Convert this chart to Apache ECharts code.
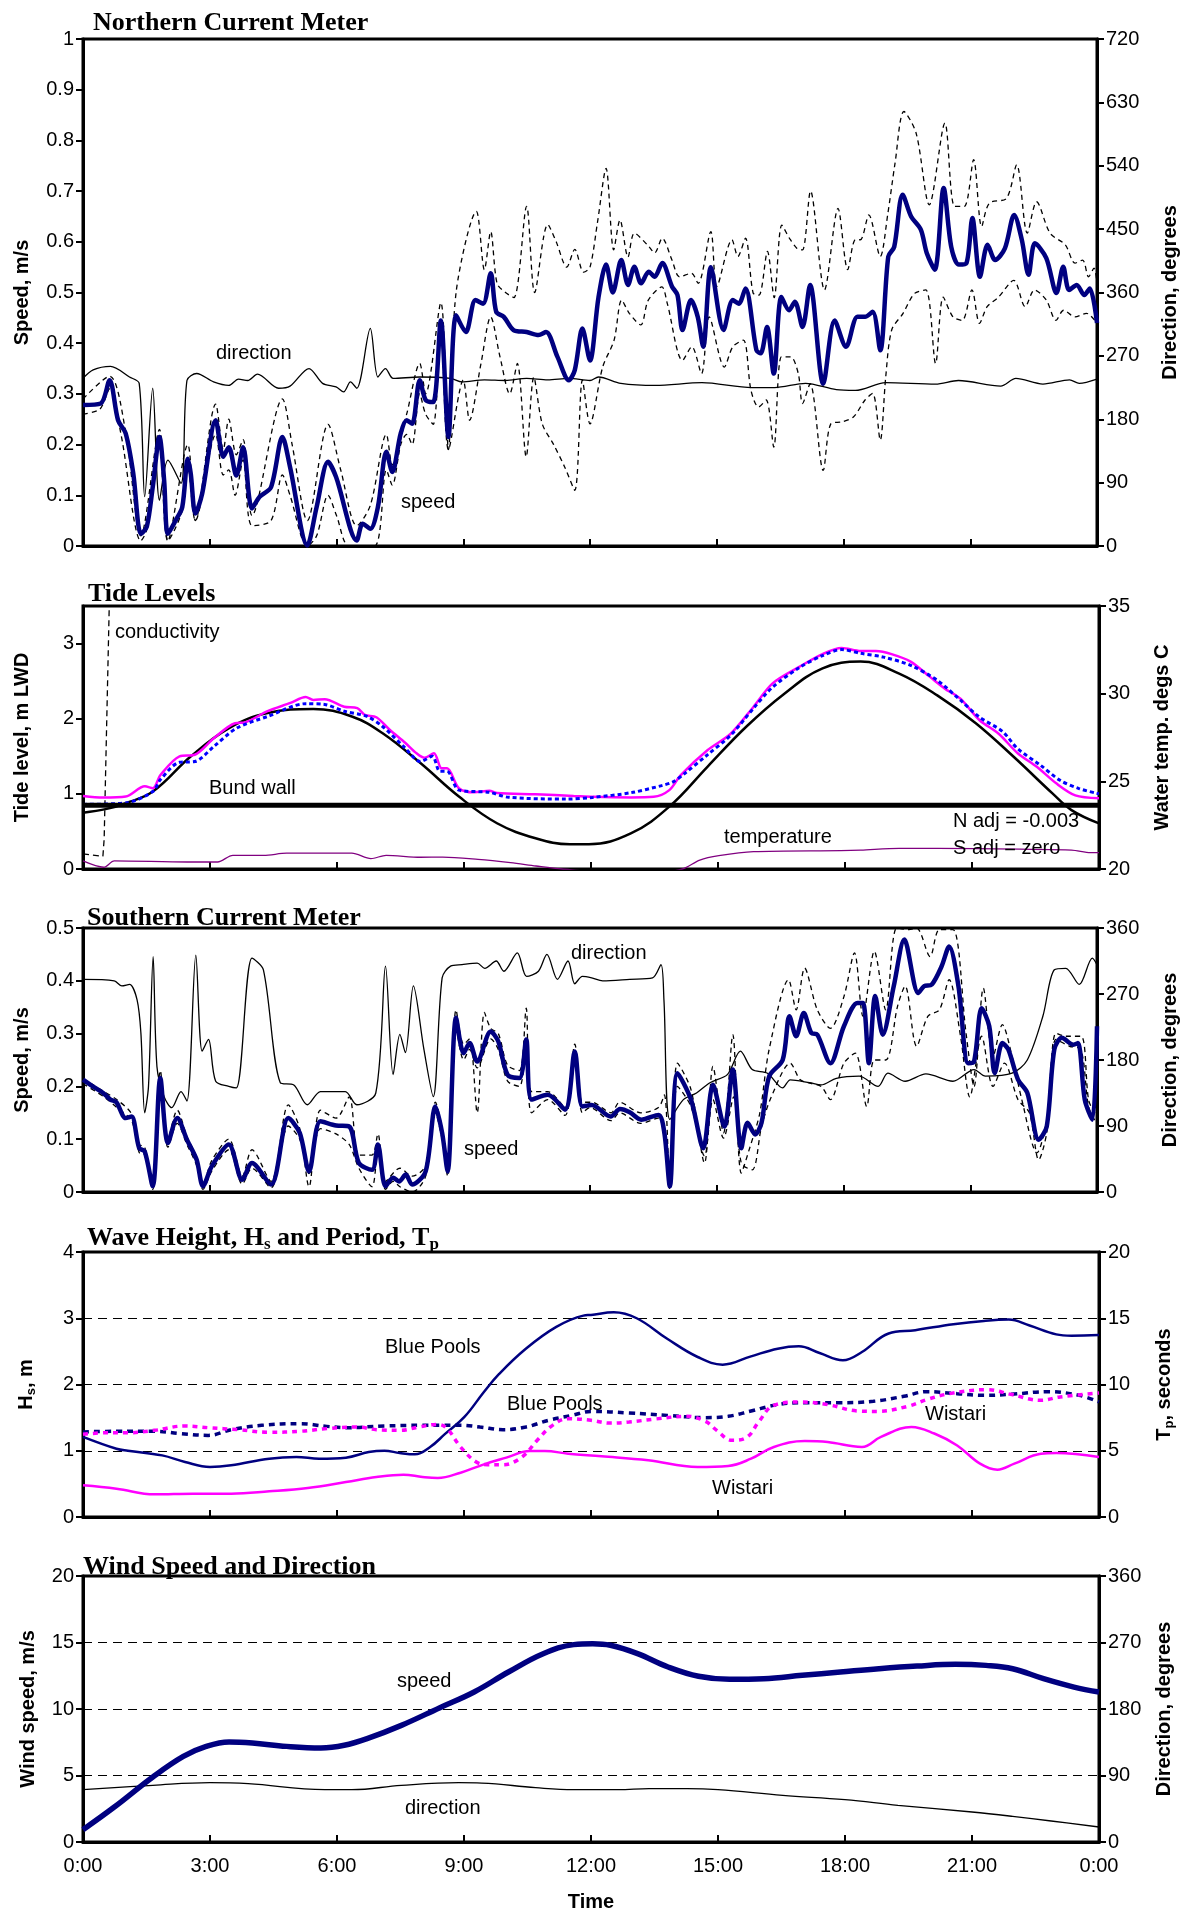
<!DOCTYPE html>
<html>
<head>
<meta charset="utf-8">
<script src="https://cdn.jsdelivr.net/npm/echarts@6/dist/echarts.min.js"></script>
<style>
html, body { margin: 0; padding: 0; background: #fff; }
#chart { width: 1188px; height: 1915px; }
</style>
</head>
<body>
<div id="chart"></div>
<script>
// ---- Northern current meter (speed m/s, direction deg) ----
var nSpeedT = [0,0.42,0.63,0.83,1.01,1.19,1.37,1.51,1.65,1.81,1.92,2.01,2.19,2.35,2.48,2.55,2.66,2.82,3.14,3.32,3.45,3.63,3.79,4.0,4.18,4.45,4.72,4.9,5.31,5.53,5.8,5.99,6.48,6.62,6.8,6.98,7.18,7.32,7.52,7.66,7.79,7.97,8.11,8.29,8.47,8.65,8.83,9.06,9.29,9.47,9.65,9.78,9.96,10.19,10.5,10.78,10.96,11.23,11.5,11.64,11.82,12.0,12.2,12.38,12.54,12.74,12.9,13.05,13.21,13.39,13.53,13.71,13.94,14.07,14.19,14.39,14.55,14.68,14.86,15.16,15.38,15.52,15.68,15.94,16.04,16.19,16.35,16.53,16.71,16.85,17.03,17.21,17.52,17.79,18.06,18.33,18.51,18.69,18.87,19.06,19.2,19.4,19.6,19.83,19.97,20.16,20.37,20.55,20.73,20.91,21.05,21.23,21.41,21.59,21.82,22.04,22.22,22.38,22.53,22.8,23.04,23.2,23.34,23.52,23.7,23.83,24];
var nSpeedV = [0.278,0.281,0.327,0.248,0.222,0.143,0.024,0.038,0.116,0.215,0.13,0.024,0.05,0.077,0.172,0.143,0.064,0.103,0.248,0.176,0.195,0.139,0.195,0.074,0.097,0.116,0.215,0.156,0.001,0.077,0.166,0.136,0.011,0.044,0.034,0.077,0.186,0.146,0.222,0.248,0.241,0.327,0.288,0.284,0.445,0.215,0.455,0.422,0.485,0.478,0.538,0.462,0.452,0.426,0.422,0.416,0.422,0.373,0.327,0.347,0.429,0.366,0.49,0.555,0.5,0.564,0.515,0.551,0.518,0.541,0.531,0.558,0.512,0.495,0.426,0.485,0.452,0.393,0.55,0.426,0.485,0.478,0.508,0.386,0.38,0.432,0.34,0.491,0.465,0.482,0.432,0.515,0.32,0.445,0.393,0.452,0.452,0.462,0.386,0.571,0.59,0.693,0.65,0.624,0.578,0.545,0.706,0.59,0.555,0.558,0.647,0.531,0.594,0.564,0.587,0.653,0.604,0.535,0.597,0.568,0.499,0.551,0.505,0.515,0.495,0.508,0.44];
var nUpperT = [0,0.63,1.0,1.37,1.81,2.01,2.48,2.66,3.14,3.32,3.45,3.63,3.79,4.0,4.72,4.95,5.31,5.8,6.1,6.48,6.8,7.18,7.32,7.66,7.97,8.11,8.47,8.65,8.83,9.31,9.5,9.65,9.8,10.0,10.2,10.5,10.69,11.0,11.2,11.45,11.64,11.85,12.0,12.18,12.38,12.56,12.71,12.9,13.05,13.39,13.53,13.71,13.94,14.12,14.4,14.56,14.86,15.0,15.36,15.5,15.68,15.86,16.0,16.2,16.36,16.54,16.72,16.9,17.03,17.22,17.55,17.87,18.1,18.28,18.4,18.6,18.87,19.05,19.22,19.43,19.72,20.03,20.4,20.63,20.86,21.08,21.27,21.45,21.86,22.1,22.35,22.57,22.89,23.25,23.48,23.66,23.8,23.93,24];
var nUpperV = [0.29,0.335,0.23,0.02,0.23,0.01,0.2,0.05,0.28,0.19,0.25,0.18,0.21,0.06,0.29,0.2,0.05,0.24,0.15,0.04,0.08,0.22,0.16,0.26,0.36,0.3,0.48,0.19,0.5,0.66,0.545,0.62,0.518,0.5,0.49,0.67,0.5,0.634,0.6,0.55,0.585,0.54,0.55,0.64,0.745,0.584,0.643,0.57,0.617,0.591,0.578,0.607,0.564,0.531,0.538,0.518,0.62,0.512,0.604,0.571,0.607,0.499,0.495,0.581,0.49,0.633,0.607,0.587,0.584,0.7,0.505,0.666,0.545,0.604,0.604,0.653,0.571,0.656,0.755,0.857,0.814,0.673,0.834,0.67,0.67,0.762,0.63,0.676,0.686,0.752,0.617,0.679,0.617,0.594,0.558,0.564,0.531,0.548,0.518];
var nLowerT = [0,0.4,0.63,0.9,1.37,1.5,1.81,2.01,2.35,2.48,2.66,3.14,3.32,3.45,3.6,3.79,4.0,4.45,4.72,4.9,5.31,5.53,5.8,6.0,6.3,6.9,7.18,7.32,7.52,7.66,7.79,7.97,8.11,8.29,8.47,8.65,9.0,9.15,9.42,9.65,9.87,10.1,10.28,10.49,10.67,10.87,11.14,11.4,11.64,11.82,12.0,12.3,12.57,12.75,12.93,13.2,13.38,13.7,13.83,14.19,14.41,14.64,14.82,15.18,15.38,15.63,15.81,15.99,16.17,16.35,16.53,16.75,16.93,17.03,17.21,17.52,17.7,17.97,18.24,18.51,18.69,18.87,19.0,19.14,19.41,19.68,19.95,20.18,20.36,20.59,20.81,21.04,21.22,21.4,21.67,22.03,22.3,22.52,22.8,23.03,23.21,23.48,23.75,24];
var nLowerV = [0.26,0.27,0.31,0.22,0.01,0.03,0.2,0.01,0.07,0.16,0.05,0.22,0.14,0.15,0.1,0.17,0.04,0.05,0.14,0.1,0,0.02,0.1,0.06,0,0,0.15,0.12,0.2,0.22,0.2,0.3,0.26,0.24,0.43,0.19,0.327,0.248,0.36,0.452,0.373,0.3,0.36,0.176,0.333,0.241,0.2,0.156,0.11,0.327,0.241,0.353,0.406,0.485,0.459,0.436,0.485,0.511,0.478,0.366,0.393,0.34,0.452,0.353,0.393,0.406,0.307,0.274,0.288,0.195,0.373,0.373,0.34,0.281,0.32,0.149,0.241,0.245,0.255,0.288,0.301,0.209,0.334,0.426,0.459,0.498,0.505,0.36,0.491,0.452,0.445,0.505,0.439,0.472,0.491,0.524,0.472,0.505,0.485,0.445,0.465,0.452,0.459,0.439];
var nDirT = [0,0.24,0.65,1.1,1.33,1.46,1.65,1.81,2.01,2.32,2.46,2.69,3.09,3.45,3.68,3.9,4.13,4.63,4.9,5.35,5.67,5.99,6.17,6.33,6.48,6.8,6.98,7.16,7.34,7.97,8.7,8.97,9.5,10,10.5,11,11.5,12,12.2,12.73,13.55,14.65,15.83,16.37,17.1,17.83,18.28,19.0,20.18,20.72,21.72,22.08,22.72,23.35,23.58,24];
var nDirV = [238,250,255,240,231,70,224,65,122,89,235,245,233,228,237,235,244,224,227,252,231,226,219,233,224,309,240,252,238,240,238,233,236,235,238,236,238,235,240,231,228,232,225,225,231,222,221,232,230,235,227,238,230,236,231,237];

// ---- Tide levels (m LWD), temperature (deg C) ----
var tidePredT = [0,0.56,1.01,1.65,2.55,3.45,4.36,5.44,6.35,7.07,7.97,8.88,9.78,10.69,11.5,11.95,12.94,13.85,14.75,15.66,16.56,17.47,18.37,19.28,20.18,21.09,21.99,22.9,23.35,24];
var tidePredV = [0.75,0.8,0.875,1.03,1.5,1.875,2.076,2.13,2.03,1.81,1.41,0.964,0.609,0.409,0.329,0.33,0.474,0.83,1.36,1.89,2.33,2.67,2.76,2.6,2.31,1.94,1.49,1.006,0.784,0.607];
var tideNT = [0,0.47,1.01,1.46,1.65,1.83,2.28,2.64,3.09,3.59,3.82,4.36,4.9,5.26,5.44,5.71,6.17,6.48,6.66,6.93,7.25,7.61,7.88,8.07,8.29,8.47,8.6,8.88,9.24,9.6,9.78,10.69,11.59,12.04,12.94,13.48,13.85,14.12,14.75,15.3,15.84,16.29,16.92,17.47,17.92,18.37,18.73,19.1,19.55,20.0,20.36,20.72,21.18,21.63,22.08,22.53,22.99,23.44,24];
var tideNV = [0.973,0.95,0.964,1.1,1.075,1.25,1.5,1.52,1.74,1.94,1.95,2.1,2.21,2.29,2.25,2.26,2.16,2.14,2.05,2.02,1.85,1.68,1.54,1.48,1.54,1.34,1.34,1.075,1.02,1.04,1.01,0.995,0.973,0.961,0.953,0.96,1.05,1.25,1.58,1.8,2.16,2.47,2.69,2.86,2.94,2.9,2.9,2.86,2.76,2.56,2.4,2.27,1.98,1.8,1.54,1.36,1.14,0.98,0.94];
var tideST = [0,1.01,1.65,1.83,2.28,2.64,3.09,3.63,4.36,5.26,5.71,6.17,6.71,7.07,7.61,7.97,8.25,8.43,8.6,8.88,9.6,10.05,11.41,12.04,12.94,13.67,13.94,14.21,14.75,15.3,15.84,16.29,16.92,17.47,17.92,18.37,18.91,19.55,20.18,20.72,21.18,21.72,22.08,22.62,23.08,23.53,24];
var tideSV = [0.86,0.88,1.03,1.19,1.42,1.43,1.63,1.875,2.03,2.2,2.19,2.1,2.03,1.9,1.61,1.43,1.5,1.3,1.3,1.05,1.02,0.955,0.93,0.953,1.015,1.11,1.16,1.27,1.52,1.78,2.14,2.42,2.68,2.84,2.92,2.87,2.82,2.71,2.51,2.25,2.02,1.83,1.6,1.38,1.18,1.07,1.0];
var bundT = [0,24];
var bundV = [0.85,0.85];
var condT = [0,0.47,0.5,0.62];
var condV = [0.2,0.17,0.4,3.5];
var tempT = [0,0.49,0.74,2.46,3.18,3.54,4.27,4.81,6.35,6.8,7.16,7.97,8.5,9.33,10.1,10.7,11.3,12.5,13.5,14.16,14.57,15.02,15.84,17.9,18.37,19.28,21.09,23.35,23.8,24];
var tempV = [20.46,20.1,20.46,20.4,20.4,20.78,20.78,20.9,20.9,20.59,20.78,20.67,20.68,20.55,20.36,20.17,20.0,19.8,19.8,20.0,20.51,20.76,20.99,21.05,21.08,21.18,21.16,21.08,20.93,20.93];

// ---- Southern current meter ----
var sSpeedT = [0,0.29,0.47,0.65,0.79,1.01,1.15,1.33,1.46,1.65,1.83,2.01,2.23,2.46,2.69,2.84,3.05,3.45,3.77,4.0,4.45,4.86,5.13,5.35,5.62,5.99,6.3,6.53,6.84,6.98,7.16,7.34,7.48,7.64,7.79,8.11,8.34,8.5,8.63,8.83,9.01,9.15,9.33,9.65,9.83,10.05,10.33,10.49,10.62,11.0,11.41,11.64,11.82,12.04,12.49,12.71,12.94,13.21,13.62,13.76,13.89,14.07,14.39,14.68,14.91,15.18,15.38,15.58,15.73,15.91,16.06,16.24,16.56,16.72,16.88,17.06,17.24,17.38,17.69,18.01,18.33,18.46,18.6,18.75,18.93,19.19,19.44,19.77,19.91,20.09,20.32,20.5,20.72,20.95,21.09,21.27,21.45,21.58,21.76,21.9,22.13,22.35,22.62,22.81,22.99,23.17,23.44,23.55,23.71,23.89,24];
var sSpeedV = [0.213,0.197,0.188,0.175,0.17,0.14,0.143,0.083,0.077,0.011,0.216,0.093,0.14,0.099,0.061,0.011,0.049,0.09,0.023,0.055,0.014,0.14,0.112,0.039,0.134,0.126,0.124,0.055,0.042,0.09,0.011,0.027,0.02,0.033,0.014,0.039,0.162,0.112,0.039,0.33,0.263,0.282,0.247,0.304,0.285,0.222,0.216,0.289,0.175,0.184,0.156,0.266,0.162,0.165,0.143,0.157,0.151,0.137,0.146,0.112,0.011,0.225,0.175,0.083,0.203,0.124,0.232,0.083,0.131,0.109,0.131,0.219,0.25,0.333,0.295,0.339,0.301,0.298,0.244,0.314,0.358,0.358,0.244,0.371,0.298,0.39,0.478,0.377,0.39,0.393,0.427,0.465,0.39,0.244,0.247,0.348,0.314,0.225,0.282,0.27,0.213,0.188,0.099,0.124,0.27,0.292,0.279,0.282,0.175,0.137,0.314];
var sUpperT = [0,0.5,0.8,1.15,1.33,1.46,1.65,1.83,2.01,2.23,2.46,2.69,2.84,3.05,3.45,3.77,4.0,4.45,4.86,5.13,5.35,5.62,5.99,6.3,6.53,6.84,6.98,7.16,7.5,7.79,8.11,8.34,8.5,8.63,8.83,9.01,9.15,9.33,9.5,9.65,9.83,10.05,10.33,10.49,10.62,11.0,11.41,11.64,11.82,12.04,12.5,12.7,13.2,13.62,13.76,13.89,14.07,14.39,14.71,14.91,15.16,15.38,15.58,15.79,16.02,16.24,16.7,16.88,17.08,17.38,17.69,18.01,18.26,18.46,18.73,19.0,19.26,19.55,19.73,20.05,20.27,20.59,20.9,21.09,21.31,21.54,21.76,21.99,22.22,22.58,22.81,23.03,23.26,23.62,23.8,23.94,24];
var sUpperV = [0.215,0.19,0.175,0.148,0.09,0.085,0.015,0.23,0.1,0.155,0.105,0.065,0.015,0.06,0.1,0.03,0.08,0.02,0.165,0.12,0.01,0.155,0.14,0.18,0.07,0.07,0.11,0.02,0.045,0.03,0.05,0.17,0.12,0.05,0.345,0.28,0.29,0.15,0.34,0.31,0.3,0.24,0.23,0.348,0.19,0.19,0.16,0.28,0.17,0.17,0.15,0.17,0.15,0.16,0.184,0.01,0.244,0.194,0.055,0.238,0.112,0.298,0.036,0.086,0.15,0.27,0.402,0.345,0.424,0.345,0.31,0.37,0.453,0.333,0.456,0.345,0.5,0.497,0.5,0.446,0.497,0.497,0.301,0.2,0.386,0.257,0.317,0.257,0.175,0.074,0.137,0.301,0.295,0.295,0.175,0.15,0.314];
var sLowerT = [0,0.5,0.8,1.15,1.33,1.46,1.65,1.83,2.01,2.23,2.46,2.69,2.84,3.05,3.45,3.77,4.0,4.45,4.86,5.13,5.35,5.62,5.99,6.3,6.53,6.84,6.98,7.16,7.34,7.5,7.79,8.11,8.34,8.5,8.63,8.83,9.01,9.15,9.33,9.65,9.83,10.05,10.33,10.49,10.62,11.0,11.41,11.64,11.82,12.0,12.5,12.7,13.2,13.62,13.76,13.89,14.07,14.39,14.71,14.91,15.16,15.4,15.58,15.84,16.06,16.29,16.74,16.97,17.2,17.47,17.69,18.01,18.28,18.55,18.73,19.0,19.28,19.46,19.73,20.0,20.27,20.5,20.77,20.99,21.27,21.54,21.81,22.13,22.4,22.62,22.81,23.03,23.35,23.62,23.8,23.98];
var sLowerV = [0.205,0.18,0.16,0.135,0.075,0.07,0.005,0.2,0.085,0.13,0.09,0.05,0.005,0.04,0.08,0.015,0.045,0.008,0.125,0.1,0.035,0.12,0.11,0.09,0.045,0.01,0.08,0.005,0.02,0.01,0,0.03,0.15,0.1,0.03,0.31,0.25,0.27,0.235,0.29,0.27,0.21,0.2,0.28,0.15,0.175,0.145,0.26,0.15,0.16,0.135,0.15,0.13,0.14,0.1,0.005,0.2,0.162,0.068,0.175,0.102,0.18,0.055,0.042,0.124,0.18,0.244,0.213,0.206,0.2,0.175,0.244,0.263,0.162,0.25,0.25,0.352,0.39,0.276,0.333,0.345,0.402,0.295,0.18,0.295,0.2,0.244,0.175,0.15,0.061,0.112,0.289,0.276,0.27,0.162,0.131];
var sDirT = [0,0.74,0.92,1.1,1.28,1.37,1.46,1.55,1.66,1.75,1.92,2.1,2.32,2.46,2.67,2.82,2.97,3.14,3.45,3.63,4.0,4.27,4.67,4.99,5.31,5.62,5.99,6.21,6.48,6.93,7.16,7.34,7.5,7.63,7.82,8.07,8.29,8.5,8.7,8.97,9.33,9.51,9.78,9.96,10.28,10.5,10.78,10.98,11.23,11.48,11.64,11.82,12.04,12.3,12.94,13.48,13.68,13.75,13.89,14.21,14.52,14.84,15.25,15.56,15.84,16.2,16.56,16.74,17.2,17.47,17.83,18.37,18.82,19.05,19.46,19.95,20.59,21.09,21.36,21.99,22.35,22.72,22.99,23.26,23.58,23.89,24];
var sDirV = [290,288,281,283,262,217,108,144,321,171,130,115,137,124,323,192,208,151,144,142,319,303,149,146,119,137,137,137,119,135,308,160,215,190,281,194,130,292,308,310,312,305,315,301,326,294,301,324,290,315,284,294,292,288,290,292,310,262,99,126,135,149,160,192,167,162,142,153,149,146,155,158,144,162,151,161,151,167,158,162,180,240,303,305,283,319,310];

// ---- Wave height Hs (m) and period Tp (s) ----
var hsBlueT = [0,0.79,1.06,1.87,2.41,3.0,3.5,4.4,5.04,5.58,6.21,6.75,7.12,7.48,7.84,8.2,8.56,9.01,9.47,9.83,10.46,11.18,11.82,12.0,12.54,13.08,13.8,14.52,15.11,15.78,16.41,16.91,17.4,17.95,18.4,19.03,19.66,20.56,21.28,21.87,22.36,22.99,23.35,24];
var hsBlueV = [1.21,1.03,1.0,0.93,0.83,0.755,0.78,0.88,0.906,0.88,0.896,0.98,1.0,0.966,0.946,1.057,1.258,1.51,1.887,2.16,2.54,2.87,3.04,3.05,3.09,3.0,2.69,2.415,2.3,2.425,2.54,2.576,2.475,2.365,2.49,2.77,2.82,2.91,2.96,2.98,2.89,2.757,2.737,2.747];
var hsWistT = [0,0.79,1.69,2.6,3.5,4.4,5.31,6.21,6.93,7.57,8.02,8.38,8.92,9.47,10.0,10.55,10.91,11.46,12.25,13.35,14.52,15.24,15.78,16.32,17.05,17.59,18.4,18.85,19.57,20.11,20.65,21.19,21.6,22.0,22.63,22.99,24];
var hsWistV = [0.478,0.428,0.342,0.352,0.352,0.387,0.438,0.528,0.604,0.639,0.604,0.589,0.669,0.795,0.896,0.996,0.996,0.956,0.916,0.855,0.755,0.77,0.88,1.057,1.147,1.132,1.057,1.21,1.36,1.26,1.08,0.805,0.714,0.805,0.956,0.966,0.906];
var tpBlueT = [0,0.79,1.69,2.32,2.96,3.5,4.22,5.13,5.76,6.21,7.12,8.02,8.47,8.92,9.38,9.92,10.46,11.0,11.55,12.0,12.9,13.8,14.7,15.24,15.78,16.41,17.05,17.86,18.67,19.39,19.93,20.65,21.28,21.91,22.81,23.53,24];
var tpBlueV = [6.42,6.47,6.47,6.29,6.16,6.59,6.92,7.04,6.84,6.74,6.87,6.92,6.92,6.92,6.79,6.59,6.79,7.3,7.67,7.97,7.85,7.67,7.5,7.6,8.0,8.48,8.63,8.63,8.73,9.11,9.46,9.31,9.18,9.26,9.46,9.18,8.68];
var tpWistT = [0,0.6,1.06,1.69,2.41,2.96,3.68,4.4,5.13,5.76,6.48,6.93,7.48,7.93,8.38,8.6,8.92,9.29,9.56,9.92,10.37,10.73,11.09,11.46,12.0,12.45,12.9,13.53,14.25,14.7,14.97,15.33,15.69,15.96,16.32,16.95,17.59,18.31,18.76,19.48,19.93,20.47,21.37,21.91,22.63,23.08,24];
var tpWistV = [6.24,6.36,6.36,6.54,6.87,6.74,6.59,6.39,6.47,6.67,6.79,6.59,6.54,6.79,6.99,6.67,5.28,4.15,3.95,3.95,4.53,5.79,6.92,7.42,7.3,7.09,7.17,7.4,7.6,7.22,6.54,5.79,6.04,7.17,8.43,8.68,8.48,8.0,7.97,8.35,8.86,9.31,9.61,9.26,8.81,9.06,9.36];

// ---- Wind speed (m/s) and direction (deg) ----
var windSpdT = [0,0.74,1.65,2.37,2.91,3.45,4.0,4.81,5.62,6.17,6.71,7.52,8.43,9.24,10.05,10.87,11.59,12.04,12.46,13.1,13.82,14.54,15.27,16.08,16.99,17.89,18.8,19.7,20.61,21.33,21.96,22.69,23.41,24];
var windSpdV = [0.93,2.63,4.89,6.44,7.19,7.52,7.44,7.19,7.07,7.27,7.77,8.77,10.1,11.28,12.78,14.16,14.84,14.91,14.79,14.16,13.16,12.46,12.23,12.28,12.53,12.78,13.03,13.23,13.36,13.28,13.03,12.28,11.65,11.28];
var windDirT = [0,1.65,3.0,3.9,5.71,6.35,7.52,8.88,9.42,10.69,11.59,12.2,12.64,13.37,14.27,15.0,16.53,18.0,19.25,21.0,21.96,22.87,24];
var windDirV = [70.8,76.7,80.3,78.9,70.8,70.8,76.7,80.3,79.8,73.5,70.8,70.8,70.8,72.2,72.2,70.8,63.1,57.3,49.6,40.6,34.7,28.4,20.3];

var hourTicks = ['0:00','3:00','6:00','9:00','12:00','15:00','18:00','21:00','0:00'];

// -------------------------------------------------------------
var SANS = '"Liberation Sans", Arial, sans-serif';
var SERIF = '"Liberation Serif", "Times New Roman", serif';

var myChart = echarts.init(document.getElementById('chart'));

var panels = [
  { top: 39,   height: 507 },
  { top: 606,  height: 263 },
  { top: 928,  height: 264 },
  { top: 1252, height: 265 },
  { top: 1576, height: 266 }
];

function pts(t, v) {
  return t.map(function (x, i) { return [x, v[i]]; });
}

function line(k, side, t, v, color, width, type, smooth, z) {
  return {
    type: 'line',
    xAxisIndex: k,
    yAxisIndex: k * 2 + side,
    data: pts(t, v),
    symbol: 'none',
    smooth: smooth,
    lineStyle: { color: color, width: width, type: type || 'solid' },
    z: z || 2,
    silent: true
  };
}

function yAx(k, side, min, max, interval, name, gap, extra) {
  var ax = {
    gridIndex: k,
    type: 'value',
    position: side ? 'right' : 'left',
    min: min, max: max, interval: interval,
    name: name,
    nameLocation: 'middle',
    nameGap: gap,
    nameRotate: 90,
    nameTextStyle: { fontFamily: SANS, fontSize: 20, fontWeight: 'bold', color: '#000' },
    axisLine: { show: true, onZero: false, lineStyle: { color: '#000', width: 3 } },
    axisTick: { show: true, length: 7, lineStyle: { color: '#000', width: 2 } },
    axisLabel: { fontFamily: SANS, fontSize: 20, color: '#000', margin: 9 },
    splitLine: { show: false }
  };
  if (extra) Object.keys(extra).forEach(function (key) { ax[key] = extra[key]; });
  return ax;
}

var dashGrid = { show: true, lineStyle: { color: '#000', width: 1, type: [9, 6] } };

var yAxes = [
  yAx(0, 0, 0, 1, 0.1, 'Speed, m/s', 51),
  yAx(0, 1, 0, 720, 90, 'Direction, degrees', 63),
  yAx(1, 0, 0, 3.5, 1, 'Tide level, m LWD', 51),
  yAx(1, 1, 20, 35, 5, 'Water temp. degs C', 53),
  yAx(2, 0, 0, 0.5, 0.1, 'Speed, m/s', 51),
  yAx(2, 1, 0, 360, 90, 'Direction, degrees', 63),
  yAx(3, 0, 0, 4, 1, 'H{s|s}, m', 45, { splitLine: dashGrid }),
  yAx(3, 1, 0, 20, 5, 'T{s|p}, seconds', 53),
  yAx(4, 0, 0, 20, 5, 'Wind speed, m/s', 45, { splitLine: dashGrid }),
  yAx(4, 1, 0, 360, 90, 'Direction, degrees', 55)
];
yAxes[2].axisLabel.showMaxLabel = false;
[6, 7].forEach(function (i) {
  yAxes[i].nameTextStyle.rich = {
    s: { fontFamily: SANS, fontSize: 13, fontWeight: 'bold', color: '#000', verticalAlign: 'bottom', lineHeight: 14 }
  };
  yAxes[i].nameTextStyle.lineHeight = 24;
});

var xAxes = panels.map(function (p, k) {
  return {
    gridIndex: k,
    type: 'value',
    min: 0, max: 24, interval: 3,
    name: k === 4 ? 'Time' : '',
    nameLocation: 'middle',
    nameGap: 50,
    nameTextStyle: { fontFamily: SANS, fontSize: 20, fontWeight: 'bold', color: '#000' },
    axisLine: { show: true, onZero: false, lineStyle: { color: '#000', width: 3 } },
    axisTick: { show: true, inside: true, length: 7, lineStyle: { color: '#000', width: 2 } },
    axisLabel: {
      show: k === 4, fontFamily: SANS, fontSize: 20, color: '#000', margin: 14,
      formatter: function (v) { return hourTicks[Math.round(v / 3)]; }
    },
    splitLine: { show: false }
  };
});

var titles = [
  ['Northern Current Meter', 93, 8],
  ['Tide Levels', 88, 579],
  ['Southern Current Meter', 87, 903],
  ['Wave Height, H{s|s} and Period, T{s|p}', 87, 1223],
  ['Wind Speed and Direction', 83, 1552]
].map(function (t) {
  return {
    text: t[0], left: t[1], top: t[2], padding: 0,
    textStyle: {
      fontFamily: SERIF, fontSize: 26, fontWeight: 'bold', color: '#000', lineHeight: 30,
      rich: { s: { fontFamily: SERIF, fontSize: 17, fontWeight: 'bold', color: '#000', lineHeight: 17, verticalAlign: 'bottom' } }
    }
  };
});

var notes = [
  ['direction', 216, 353], ['speed', 401, 502],
  ['conductivity', 115, 632], ['Bund wall', 209, 788], ['temperature', 724, 837],
  ['N adj = -0.003', 953, 821], ['S adj = zero', 953, 848],
  ['direction', 571, 953], ['speed', 464, 1149],
  ['Blue Pools', 385, 1347], ['Blue Pools', 507, 1404], ['Wistari', 925, 1414], ['Wistari', 712, 1488],
  ['speed', 397, 1681], ['direction', 405, 1808]
];

var NAVY = '#000080', MAG = '#FF00FF';

var series = [
  // Northern current meter
  line(0, 0, nUpperT, nUpperV, '#000', 1.3, [5, 4], 0.3, 2),
  line(0, 0, nLowerT, nLowerV, '#000', 1.3, [5, 4], 0.3, 2),
  line(0, 1, nDirT, nDirV, '#000', 1.3, 'solid', 0.3, 3),
  line(0, 0, nSpeedT, nSpeedV, NAVY, 4.5, 'solid', 0.3, 4),
  // Tide levels
  line(1, 1, tempT, tempV, '#800080', 1.3, 'solid', 0.3, 2),
  line(1, 0, condT, condV, '#000', 1.3, [6, 4], false, 2),
  line(1, 0, tidePredT, tidePredV, '#000', 2.5, 'solid', 0.4, 3),
  line(1, 0, tideNT, tideNV, MAG, 2.5, 'solid', 0.3, 3),
  line(1, 0, tideST, tideSV, '#0000FF', 3, [4, 3], 0.3, 4),
  line(1, 0, bundT, bundV, '#000', 5, 'solid', false, 5),
  // Southern current meter
  line(2, 0, sUpperT, sUpperV, '#000', 1.3, [5, 4], 0.3, 2),
  line(2, 0, sLowerT, sLowerV, '#000', 1.3, [5, 4], 0.3, 2),
  line(2, 1, sDirT, sDirV, '#000', 1.3, 'solid', 0.3, 3),
  line(2, 0, sSpeedT, sSpeedV, NAVY, 4.5, 'solid', 0.3, 4),
  // Waves
  line(3, 0, hsBlueT, hsBlueV, NAVY, 2.5, 'solid', 0.4, 3),
  line(3, 0, hsWistT, hsWistV, MAG, 2.5, 'solid', 0.4, 3),
  line(3, 1, tpBlueT, tpBlueV, NAVY, 3.5, [6, 5], 0.4, 4),
  line(3, 1, tpWistT, tpWistV, MAG, 3.5, [5, 5], 0.4, 4),
  // Wind
  line(4, 1, windDirT, windDirV, '#000', 1.3, 'solid', 0.4, 3),
  line(4, 0, windSpdT, windSpdV, NAVY, 5.5, 'solid', 0.4, 4)
];

var option = {
  animation: false,
  backgroundColor: '#fff',
  textStyle: { fontFamily: SANS },
  title: titles,
  grid: panels.map(function (p) {
    return { left: 83, right: 89, top: p.top, height: p.height, show: true,
             borderColor: '#000', borderWidth: 3, backgroundColor: 'transparent', containLabel: false };
  }),
  xAxis: xAxes,
  yAxis: yAxes,
  series: series,
  graphic: notes.map(function (n) {
    return {
      type: 'text', x: n[1], y: n[2], z: 100, silent: true,
      style: { text: n[0], fill: '#000', font: '20px ' + SANS, verticalAlign: 'middle', textVerticalAlign: 'middle' }
    };
  })
};

myChart.setOption(option);
</script>
</body>
</html>
